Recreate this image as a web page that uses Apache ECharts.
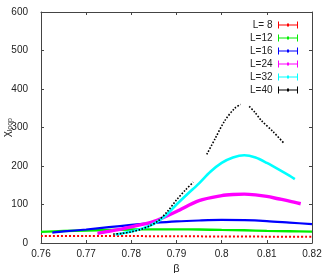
<!DOCTYPE html>
<html><head><meta charset="utf-8">
<script src="https://cdn.jsdelivr.net/npm/echarts@6/dist/echarts.min.js"></script>
<style>html,body{margin:0;padding:0;background:#fff}#c{width:327px;height:273px}</style>
</head><body><div id="c"></div>
<script>
const xTicks = [0.76, 0.77, 0.78, 0.79, 0.8, 0.81, 0.82];
const yTicks = [0, 100, 200, 300, 400, 500, 600];
const labels = ['L= 8', 'L=12', 'L=16', 'L=24', 'L=32', 'L=40'];
const colors = ['#ff0000', '#00ee00', '#0000ff', '#ff00ff', '#00ffff', '#000000'];

const beta8 = [0.76, 0.77, 0.78, 0.79, 0.80, 0.81, 0.82];
const chi8  = [18.5, 18.5, 18, 17.5, 17, 16.5, 16];

const beta12 = [0.76, 0.765, 0.77, 0.775, 0.78, 0.785, 0.79, 0.795, 0.80, 0.805, 0.81, 0.815, 0.82];
const chi12  = [29, 31, 32.5, 34, 35, 35.5, 35.5, 35, 34, 33, 31.5, 30.5, 29.5];

const beta16 = [0.7625, 0.765, 0.77, 0.775, 0.78, 0.785, 0.79, 0.795, 0.80, 0.805, 0.81, 0.815, 0.82];
const chi16  = [27, 30, 35, 41, 47, 52, 56, 58.5, 60, 59.5, 57, 53, 49];

const beta24 = [0.7725, 0.775, 0.78, 0.785, 0.79, 0.795, 0.80, 0.8025, 0.805, 0.8075, 0.81, 0.8125, 0.815, 0.8175];
const chi24  = [25, 30, 42, 56, 82, 110, 123, 126, 127, 125, 121, 115, 109, 102];

const beta32 = [0.7765, 0.78, 0.7825, 0.785, 0.7875, 0.79, 0.7925, 0.795, 0.7975, 0.80, 0.8025, 0.805, 0.8075, 0.81, 0.8125, 0.815, 0.8162];
const chi32  = [22, 30, 38, 50, 70, 100, 128, 155, 185, 208, 222, 228, 222, 208, 192, 175, 166];

const beta40 = [0.776, 0.778, 0.78, 0.782, 0.784, 0.786, 0.788, 0.79, 0.792, 0.7937, 0.7952,
                0.7967, 0.7985, 0.8007, 0.8029, 0.8042, 0.8052,
                0.8061, 0.8073, 0.8088, 0.8114, 0.8138];
const chi40  = [23, 25, 29, 35, 44, 58, 82, 112, 138, 158, null,
                230, 270, 318, 350, 360, null,
                355, 340, 318, 289, 259];

const betas = [beta8, beta12, beta16, beta24, beta32, beta40];
const chis = [chi8, chi12, chi16, chi24, chi32, chi40];
const widths = [2, 2.4, 2.2, 3.4, 2.6, 1.6];
const types = ['dotted', 'solid', 'solid', 'solid', 'solid', 'dotted'];

const chart = echarts.init(document.getElementById('c'), null, {renderer: 'canvas'});
const FF = 'Liberation Sans, Arial, sans-serif';
const axisTxt = {color: '#222', fontSize: 10, fontFamily: FF};
const legendIcon = 'path://M0,4h20v1h-20z M0,1h1v7h-1z M19,1h1v7h-1z M9,3h2v3h-2z';

const series = labels.map((name, i) => ({
  name: name,
  type: 'line',
  xAxisIndex: 0, yAxisIndex: 0,
  data: betas[i].map((b, j) => [b, chis[i][j]]),
  showSymbol: false,
  symbol: 'none',
  connectNulls: false,
  smooth: 0.3,
  lineStyle: {color: colors[i], width: widths[i], type: types[i]},
  itemStyle: {color: colors[i]},
  emphasis: {disabled: true},
  animation: false
}));

chart.setOption({
  animation: false,
  grid: {left: 41, right: 15, top: 12, bottom: 30, containLabel: false, outerBoundsMode: 'none'},
  legend: {
    orient: 'vertical', right: 24, top: 15,
    itemWidth: 21, itemHeight: 7, itemGap: 3, align: 'right',
    icon: legendIcon,
    textStyle: {color: '#222', fontSize: 10, fontFamily: FF},
    data: labels
  },
  xAxis: [{
    type: 'value', min: 0.76, max: 0.82, interval: 0.01, position: 'bottom',
    name: 'β', nameLocation: 'middle', nameGap: 20, nameMoveOverlap: false,
    nameTextStyle: {color: '#222', fontSize: 11, fontFamily: FF},
    axisLine: {show: true, onZero: false, lineStyle: {color: '#444', width: 1}},
    axisTick: {show: true, inside: true, length: 3, lineStyle: {color: '#444'}},
    axisLabel: Object.assign({margin: 6, formatter: v => String(+v.toFixed(2))}, axisTxt),
    splitLine: {show: false}
  }, {
    type: 'value', min: 0.76, max: 0.82, interval: 0.01, position: 'top',
    axisLine: {show: true, onZero: false, lineStyle: {color: '#444', width: 1}},
    axisTick: {show: true, inside: true, length: 3, lineStyle: {color: '#444'}},
    axisLabel: {show: false}, splitLine: {show: false}
  }],
  yAxis: [{
    type: 'value', min: 0, max: 600, interval: 100, position: 'left',
    name: '{a|χ}{b|loop}', nameLocation: 'middle', nameGap: 27, nameRotate: 90, nameMoveOverlap: false,
    nameTextStyle: {
      color: '#222', fontFamily: FF,
      rich: {
        a: {fontSize: 11, color: '#222', fontFamily: FF, verticalAlign: 'top'},
        b: {fontSize: 7, color: '#222', fontFamily: FF, verticalAlign: 'bottom', padding: [6, 0, 0, 0]}
      }
    },
    axisLine: {show: true, onZero: false, lineStyle: {color: '#444', width: 1}},
    axisTick: {show: true, inside: true, length: 3, lineStyle: {color: '#444'}},
    axisLabel: Object.assign({margin: 13}, axisTxt),
    splitLine: {show: false}
  }, {
    type: 'value', min: 0, max: 600, interval: 100, position: 'right',
    axisLine: {show: true, onZero: false, lineStyle: {color: '#444', width: 1}},
    axisTick: {show: true, inside: true, length: 3, lineStyle: {color: '#444'}},
    axisLabel: {show: false}, splitLine: {show: false}
  }],
  series: series
});
</script></body></html>
